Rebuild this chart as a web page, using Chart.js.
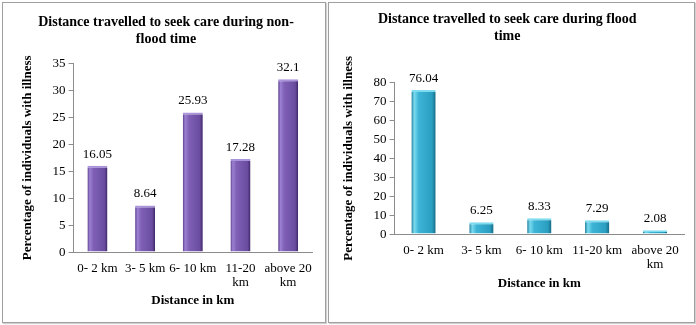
<!DOCTYPE html>
<html lang="en">
<head>
<meta charset="UTF-8">
<title>Distance travelled to seek care</title>
<script src="https://cdn.jsdelivr.net/npm/chart.js"></script>
<style>
    body { margin: 0; background: #fff; width: 696px; height: 325px; position: relative; overflow: hidden; }
    .box { position: absolute; border: 1px solid #a0a0a0; box-shadow: 1px 1px 1px #d0d0d0; background: #fff; }
    #boxLeft { left: 2px; top: 2px; width: 322px; height: 319px; }
    #boxRight { left: 328px; top: 2px; width: 365px; height: 319px; }
    canvas { display: block; }
</style>
</head>
<body>
<div class="box" id="boxLeft"><canvas id="nonFloodChart" width="322" height="319"></canvas></div>
<div class="box" id="boxRight"><canvas id="floodChart" width="365" height="319"></canvas></div>
<script>
    // categorias y valores
    var nonFloodLabels = ['0- 2 km', '3- 5 km', '6- 10 km', ['11-20', 'km'], ['above 20', 'km']];
    var floodLabels = ['0- 2 km', '3- 5 km', '6- 10 km', '11-20 km', ['above 20', 'km']];
    var nonFloodValues = [16.05, 8.64, 25.93, 17.28, 32.1];
    var floodValues = [76.04, 6.25, 8.33, 7.29, 2.08];
    var nonFloodTitle = ['Distance travelled to seek care during non-', 'flood time'];
    var floodTitle = ['Distance travelled to seek care during flood\u00a0\u00a0\u00a0', 'time\u00a0\u00a0\u00a0'];

    var FONT = 'Liberation Serif';
    var BAR_PCT = 0.42;

    // gradiente horizontal para cada barra
    function barGradient(colors) {
        return function(context) {
            var chart = context.chart;
            var xs = chart.scales.x;
            if (!xs || !chart.chartArea) return colors[2];
            var cx = xs.getPixelForValue(context.dataIndex);
            var half = xs.width / xs.ticks.length * BAR_PCT / 2;
            var g = chart.ctx.createLinearGradient(cx - half, 0, cx + half, 0);
            g.addColorStop(0, colors[0]);
            g.addColorStop(0.12, colors[1]);
            g.addColorStop(0.3, colors[2]);
            g.addColorStop(0.85, colors[3]);
            g.addColorStop(1, colors[4]);
            return g;
        };
    }

    // etiquetas de valores encima de las barras
    var valueLabels = {
        id: 'valueLabels',
        afterDatasetsDraw: function(chart) {
            var ctx = chart.ctx;
            var meta = chart.getDatasetMeta(0);
            var data = chart.data.datasets[0].data;
            ctx.save();
            ctx.font = '13px "' + FONT + '"';
            ctx.fillStyle = '#000';
            ctx.textAlign = 'center';
            ctx.textBaseline = 'bottom';
            meta.data.forEach(function(bar, i) {
                ctx.fillText(String(data[i]), bar.x, bar.y - 5);
            });
            ctx.restore();
        }
    };

    function createChart(id, labels, values, title, yMax, yStep, colors, o) {
        var ctx = document.getElementById(id).getContext('2d');
        return new Chart(ctx, {
            type: 'bar',
            data: {
                labels: labels,
                datasets: [{
                    data: values,
                    backgroundColor: barGradient(colors),
                    borderColor: colors[5],
                    borderWidth: { top: 2, left: 0, right: 0, bottom: 0 },
                    categoryPercentage: 1,
                    barPercentage: BAR_PCT
                }]
            },
            options: {
                responsive: false,
                animation: false,
                layout: { padding: o.padding },
                plugins: {
                    legend: { display: false },
                    tooltip: { enabled: false },
                    title: {
                        display: true,
                        text: title,
                        color: '#000',
                        font: { family: FONT, size: 14, weight: 'bold', lineHeight: 1.2 },
                        padding: { top: 0, bottom: o.titleGap }
                    }
                },
                scales: {
                    x: {
                        grid: { display: false, drawTicks: false },
                        border: { color: '#8c8c8c' },
                        ticks: { color: '#000', maxRotation: 0, autoSkip: false, padding: o.xTickPad, font: { family: FONT, size: 13, lineHeight: 1.05 } },
                        title: { display: true, text: 'Distance in km', color: '#000', padding: { top: o.xTitleTop, bottom: 0 }, font: { family: FONT, size: 13, weight: 'bold' } }
                    },
                    y: {
                        min: 0,
                        max: yMax,
                        grid: { drawOnChartArea: false, drawTicks: true, tickLength: 5, color: '#8c8c8c' },
                        border: { color: '#8c8c8c' },
                        ticks: { stepSize: yStep, color: '#000', padding: 3, font: { family: FONT, size: 13 } },
                        title: { display: true, text: 'Percentage of individuals with illness', color: '#000', padding: { top: 0, bottom: o.yTitleGap }, font: { family: FONT, size: 13, weight: 'bold' } }
                    }
                }
            },
            plugins: [valueLabels]
        });
    }

    var purple = ['#5b3f8c', '#9c80d2', '#7f60b6', '#6a4c9f', '#3d2766', '#a994dc'];
    var cyan = ['#1f7f9c', '#7adaef', '#3db4d6', '#2a9ec0', '#156a84', '#7fdcf0'];

    createChart('nonFloodChart', nonFloodLabels, nonFloodValues, nonFloodTitle, 35, 5, purple,
        { padding: { top: 11, left: 17, right: 13, bottom: 14 }, titleGap: 16, xTickPad: 10, xTitleTop: -7, yTitleGap: 14 });
    createChart('floodChart', floodLabels, floodValues, floodTitle, 80, 10, cyan,
        { padding: { top: 8, left: 12, right: 10, bottom: 31 }, titleGap: 38, xTickPad: 10, xTitleTop: -6, yTitleGap: 14 });
</script>
</body>
</html>
